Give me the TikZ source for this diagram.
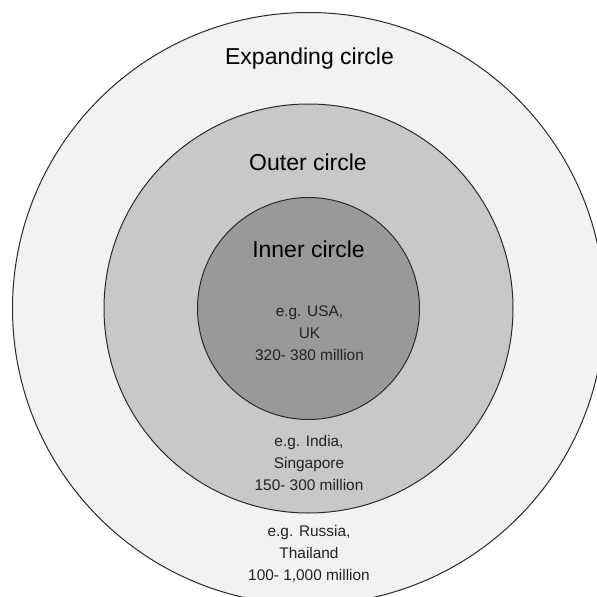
\documentclass[tikz,border=0pt]{standalone}
\usepackage{fontspec}
\setmainfont{Liberation Sans}
\definecolor{ringA}{HTML}{F2F2F2}
\definecolor{ringB}{HTML}{C8C8C8}
\definecolor{ringC}{HTML}{999999}
\definecolor{edgegray}{HTML}{2A2A2A}
\definecolor{notegray}{HTML}{222222}
\begin{document}
\begin{tikzpicture}[x=1pt,y=-1pt,
  ring/.style={circle, draw=edgegray, line width=1pt, inner sep=0pt},
  title/.style={font=\fontsize{23}{27}\selectfont, anchor=base, text=black, inner sep=0pt},
  note/.style={font=\fontsize{15.4}{18}\selectfont, anchor=base, text=notegray, inner sep=0pt}]
\useasboundingbox (0,0) rectangle (597,597);
\clip (0,0) rectangle (597,597);
\fill[white] (0,0) rectangle (597,597);
\node[ring, fill=ringA, minimum size=592pt] (expanding) at (308.5,308.5) {};
\node[ring, fill=ringB, minimum size=409pt] (outer) at (308.5,308.5) {};
\node[ring, fill=ringC, minimum size=222pt] (inner) at (308.5,308.5) {};
\node[title] (texp) at (309.5,64.4) {Expanding circle};
\node[title] (tout) at (308,170.2) {Outer circle};
\node[title] (tinn) at (308.5,257.7) {Inner circle};
\node[note] (i1) at (309.5,316) {e.g. USA,};
\node[note] (i2) at (309.5,338.2) {UK};
\node[note] (i3) at (309.5,360.4) {320- 380 million};
\node[note] (o1) at (309,446) {e.g. India,};
\node[note] (o2) at (309,468.2) {Singapore};
\node[note] (o3) at (309,490.2) {150- 300 million};
\node[note] (e1) at (309,536.7) {e.g. Russia,};
\node[note] (e2) at (309,558.6) {Thailand};
\node[note] (e3) at (309,580.4) {100- 1,000 million};
\end{tikzpicture}
\end{document}
